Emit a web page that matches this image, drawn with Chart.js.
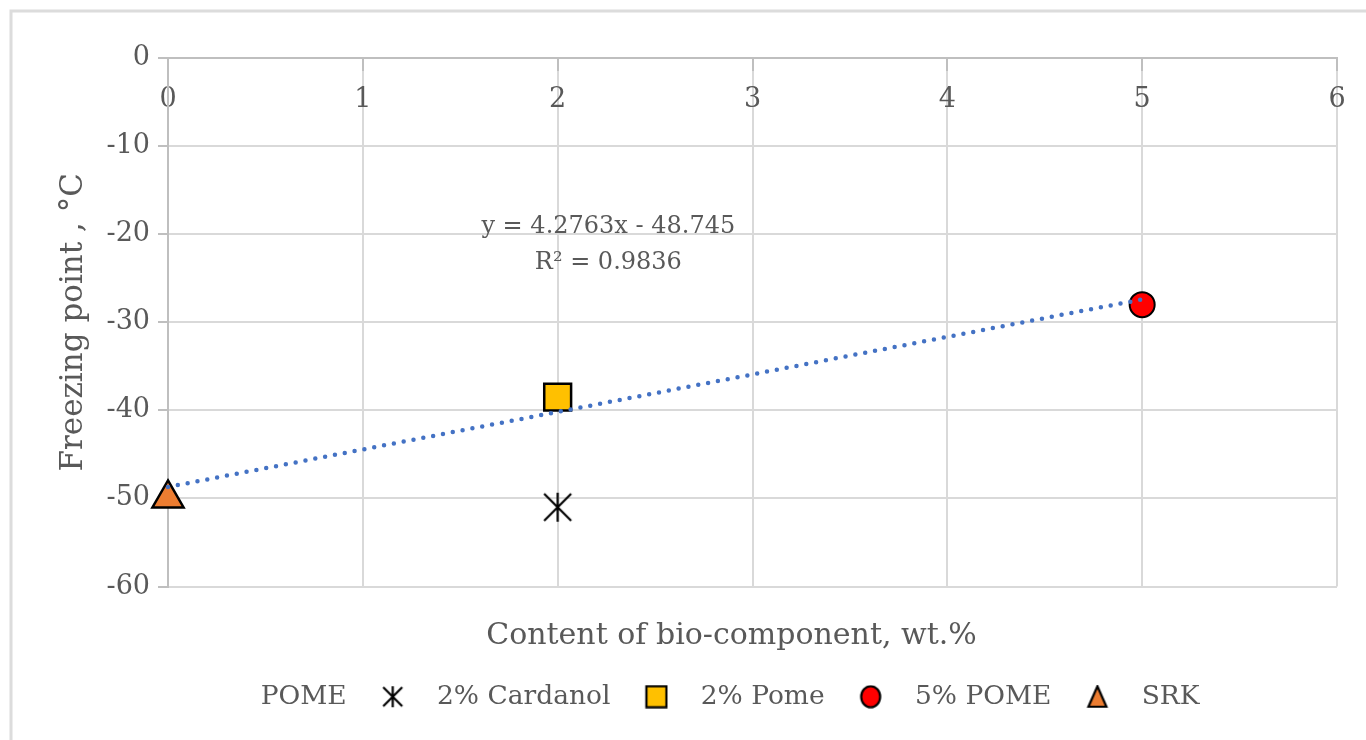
<!DOCTYPE html>
<html>
<head>
<meta charset="utf-8">
<script src="https://cdn.jsdelivr.net/npm/chart.js@4/dist/chart.umd.min.js"></script>
<style>
  html, body { margin: 0; padding: 0; background: #fff; }
</style>
</head>
<body>
<canvas id="graficoDispersao" width="1366" height="740"></canvas>
<script>
// valores
const srkX = [0];
const srkY = [-50];
const cardanolX = [2];
const cardanolY = [-51];
const pome2X = [2];
const pome2Y = [-38.5];
const pome5X = [5];
const pome5Y = [-28];
const trendX = [0, 5];
const trendY = [-48.7, -27.4];
const xTicks = [0, 1, 2, 3, 4, 5, 6];
const yTicks = [0, -10, -20, -30, -40, -50, -60];
const equationLines = ['y = 4.2763x - 48.745', 'R\u00B2 = 0.9836'];

const textColor = '#595959';
const fontFamily = '"DejaVu Serif", serif';

function pts(xs, ys) {
  return xs.map((x, i) => ({ x: x, y: ys[i] }));
}

function makeIcon(size, draw) {
  const c = document.createElement('canvas');
  c.width = size;
  c.height = size;
  const g = c.getContext('2d');
  draw(g, size);
  return c;
}

function drawStar(g, s) {
  const m = 2;
  g.strokeStyle = '#000';
  g.lineWidth = 2.2;
  g.beginPath();
  g.moveTo(m, m); g.lineTo(s - m, s - m);
  g.moveTo(s - m, m); g.lineTo(m, s - m);
  g.moveTo(s / 2, m - 1); g.lineTo(s / 2, s - m + 1);
  g.stroke();
}

const starBig = makeIcon(31, drawStar);

const legendIcons = [
  makeIcon(4, () => {}),
  makeIcon(23, drawStar),
  makeIcon(24, (g, s) => {
    g.fillStyle = '#FFC000'; g.strokeStyle = '#000'; g.lineWidth = 2.2;
    g.fillRect(2, 1.5, s - 4, s - 3); g.strokeRect(2, 1.5, s - 4, s - 3);
  }),
  makeIcon(24, (g, s) => {
    g.fillStyle = '#FF0000'; g.strokeStyle = '#000'; g.lineWidth = 2.2;
    g.beginPath(); g.ellipse(s / 2, s / 2, s / 2 - 2.5, s / 2 - 1.5, 0, 0, Math.PI * 2);
    g.fill(); g.stroke();
  }),
  makeIcon(24, (g, s) => {
    g.fillStyle = '#ED7D31'; g.strokeStyle = '#000'; g.lineWidth = 2.2;
    g.beginPath(); g.moveTo(s / 2, 1.5); g.lineTo(s - 3, s - 2); g.lineTo(3, s - 2); g.closePath();
    g.fill(); g.stroke();
  })
];

const moldura = {
  id: 'moldura',
  beforeDraw(chart) {
    const c = chart.ctx;
    c.save();
    c.strokeStyle = '#dcdcdc';
    c.lineWidth = 3;
    c.beginPath();
    c.moveTo(11, chart.height);
    c.lineTo(11, 11);
    c.lineTo(chart.width, 11);
    c.stroke();
    c.restore();
  }
};

// título do eixo x um pouco à esquerda, legenda um pouco à direita
const ajuste = {
  id: 'ajuste',
  afterLayout(chart) {
    chart.scales.x2.left -= 42;
    chart.legend.left += 14;
    chart.legend.right += 14;
  }
};

const equacao = {
  id: 'equacao',
  afterDatasetsDraw(chart) {
    const c = chart.ctx;
    const px = chart.scales.x.getPixelForValue(2.26);
    const py = chart.scales.y.getPixelForValue(-19.2);
    c.save();
    c.fillStyle = textColor;
    c.font = '24px ' + fontFamily;
    c.textAlign = 'center';
    c.textBaseline = 'middle';
    equationLines.forEach((t, i) => c.fillText(t, px, py + i * 36));
    c.restore();
  }
};

const ctx = document.getElementById('graficoDispersao').getContext('2d');

const grafico = new Chart(ctx, {
  type: 'scatter',
  data: {
    datasets: [{
      label: 'POME',
      data: pts(trendX, trendY),
      showLine: true,
      borderColor: '#4472C4',
      borderWidth: 4.5,
      borderDash: [0, 10],
      borderCapStyle: 'round',
      pointRadius: 0,
      pointHoverRadius: 0,
      clip: false
    }, {
      label: '2% Cardanol',
      data: pts(cardanolX, cardanolY),
      pointStyle: starBig,
      pointRadius: 15,
      clip: false
    }, {
      label: '2% Pome',
      data: pts(pome2X, pome2Y),
      pointStyle: 'rect',
      pointRadius: 19,
      backgroundColor: '#FFC000',
      borderColor: '#000000',
      borderWidth: 2.5,
      clip: false
    }, {
      label: '5% POME',
      data: pts(pome5X, pome5Y),
      pointStyle: 'circle',
      pointRadius: 12.5,
      backgroundColor: '#FF0000',
      borderColor: '#000000',
      borderWidth: 2,
      clip: false
    }, {
      label: 'SRK',
      data: pts(srkX, srkY),
      pointStyle: 'triangle',
      pointRadius: 18,
      backgroundColor: '#ED7D31',
      borderColor: '#000000',
      borderWidth: 2.5,
      clip: false
    }]
  },
  options: {
    responsive: false,
    animation: false,
    layout: {
      padding: { left: 20, top: 58, right: 29, bottom: 20 }
    },
    plugins: {
      legend: {
        display: true,
        position: 'bottom',
        labels: {
          color: textColor,
          font: { family: fontFamily, size: 26.5 },
          usePointStyle: true,
          pointStyleWidth: 62,
          boxHeight: 20,
          padding: 15,
          generateLabels(chart) {
            const items = Chart.defaults.plugins.legend.labels.generateLabels(chart);
            items.forEach(it => {
              it.pointStyle = legendIcons[it.datasetIndex];
              it.fontColor = textColor;
            });
            return items;
          }
        }
      },
      tooltip: { enabled: false }
    },
    scales: {
      x: {
        type: 'linear',
        position: { y: 0 },
        min: 0,
        max: 6,
        afterBuildTicks(s) { s.ticks = xTicks.map(v => ({ value: v })); },
        ticks: {
          color: textColor,
          font: { family: fontFamily, size: 27 },
          padding: 14
        },
        grid: {
          color: '#d9d9d9',
          lineWidth: 2,
          tickColor: '#bfbfbf',
          tickLength: 12
        },
        border: { color: '#bfbfbf', width: 2 }
      },
      x2: {
        type: 'linear',
        position: 'bottom',
        min: 0,
        max: 6,
        ticks: { display: false },
        grid: { display: false },
        border: { display: false },
        title: {
          display: true,
          text: 'Content of bio-component, wt.%',
          color: textColor,
          font: { family: fontFamily, size: 30 },
          padding: { top: 0, bottom: 14 }
        },
        afterFit(s) { s.height = 82; }
      },
      y: {
        type: 'linear',
        position: 'left',
        min: -60,
        max: 0,
        afterBuildTicks(s) { s.ticks = yTicks.map(v => ({ value: v })); },
        ticks: {
          color: textColor,
          font: { family: fontFamily, size: 27 },
          padding: 8
        },
        grid: {
          color: '#d9d9d9',
          lineWidth: 2,
          tickColor: '#bfbfbf',
          tickLength: 10
        },
        border: { color: '#bfbfbf', width: 2 },
        title: {
          display: true,
          text: 'Freezing point , \u00B0C',
          color: textColor,
          font: { family: fontFamily, size: 31 },
          padding: { top: 35, bottom: 0 }
        },
        afterFit(s) { s.width = 148; }
      }
    }
  },
  plugins: [moldura, ajuste, equacao]
});
</script>
</body>
</html>
